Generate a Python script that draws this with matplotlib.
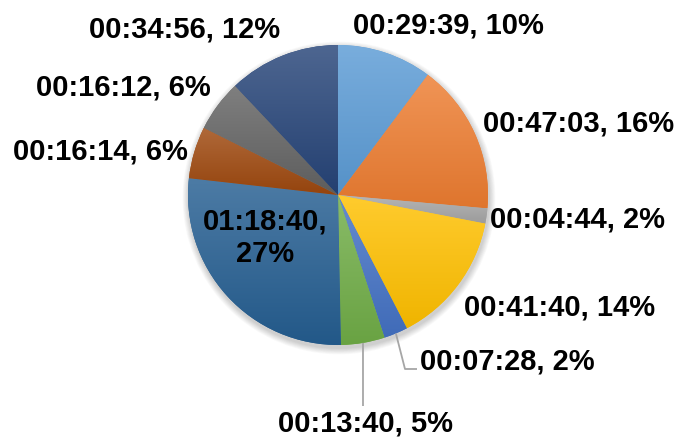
"""
Camembert des durées (h:m:s) avec étiquettes "durée, %" façon Excel.
"""

import matplotlib
matplotlib.use("Agg")
import matplotlib.pyplot as plt
import numpy as np
from matplotlib.colors import to_rgb

plt.rcParams["font.family"] = ["Liberation Sans", "DejaVu Sans"]

# Données
durations = ["00:29:39", "00:47:03", "00:04:44", "00:41:40", "00:07:28",
             "00:13:40", "01:18:40", "00:16:14", "00:16:12", "00:34:56"]
percents = ["10%", "16%", "2%", "14%", "2%", "5%", "27%", "6%", "6%", "12%"]
colors = ["#5B9BD5", "#ED7D31", "#A5A5A5", "#FFC000", "#4472C4",
          "#70AD47", "#255E91", "#9E480E", "#636363", "#264478"]

W, H = 681, 437
CX, CY, R = 338, H - 195, 150

# positions des étiquettes (pixels depuis le haut), alignement
label_pos = [(448, 25, "center"), (579, 124, "center"), (578, 219, "center"),
             (560, 307, "center"), (420, 362, "left"), (365, 423, "center"),
             (265, 238, "center"), (100, 152, "center"), (123, 87, "center"),
             (185, 29, "center")]
# lignes de rappel : points de coude (pixels depuis le haut)
leaders = {4: [(405, 369), (417, 369)], 5: [(363, 406)]}


def to_seconds(s):
    h, m, sec = (int(p) for p in s.split(":"))
    return h * 3600 + m * 60 + sec


values = [to_seconds(d) for d in durations]


def mix(c, other, t):
    c = np.array(to_rgb(c))
    return tuple(c * (1 - t) + np.array(other) * t)


fig = plt.figure(figsize=(W / 100, H / 100), dpi=100)
ax = fig.add_axes([0, 0, 1, 1])
ax.set_xlim(0, W)
ax.set_ylim(0, H)
ax.axis("off")

# ombre douce sous le camembert
for k in range(8, 0, -1):
    ax.add_patch(plt.Circle((CX + 1, CY - 3), R + k * 0.8, color="black",
                            alpha=0.025, lw=0, zorder=0))

wedges, _ = ax.pie(values, colors=colors, startangle=90, counterclock=False,
                   center=(CX, CY), radius=R, frame=True,
                   wedgeprops=dict(linewidth=0))
ax.set_xlim(0, W)
ax.set_ylim(0, H)
ax.set_aspect("equal")
ax.axis("off")

# dégradé vertical par part (clair en haut, foncé en bas)
for w, col in zip(wedges, colors):
    th = np.radians(np.linspace(w.theta1, w.theta2, 60))
    xs = np.concatenate([[CX], CX + R * np.cos(th)])
    ys = np.concatenate([[CY], CY + R * np.sin(th)])
    top, bot = mix(col, (1, 1, 1), 0.18), mix(col, (0, 0, 0), 0.06)
    grad = np.linspace(0, 1, 64)[:, None, None]
    img = np.array(top)[None, None, :] * (1 - grad) + np.array(bot)[None, None, :] * grad
    im = ax.imshow(img, extent=(xs.min(), xs.max(), ys.min(), ys.max()),
                   origin="upper", aspect="auto", zorder=2, interpolation="bilinear")
    im.set_clip_path(w)

ax.set_xlim(0, W)
ax.set_ylim(0, H)

# étiquettes
for i, (w, d, p) in enumerate(zip(wedges, durations, percents)):
    lx, ly, ha = label_pos[i]
    txt = f"{d},\n{p}" if i == 6 else f"{d}, {p}"
    ax.text(lx, H - ly, txt, ha=ha, va="center", fontsize=21,
            fontweight="bold", color="black", zorder=5, linespacing=1.2)
    if i in leaders:
        mid = np.radians((w.theta1 + w.theta2) / 2)
        pts = [(CX + R * np.cos(mid), CY + R * np.sin(mid))]
        pts += [(x, H - y) for x, y in leaders[i]]
        ax.plot([q[0] for q in pts], [q[1] for q in pts], color="#A6A6A6",
                lw=1.3, zorder=4, solid_capstyle="butt")

fig.savefig("out.png", dpi=100)
